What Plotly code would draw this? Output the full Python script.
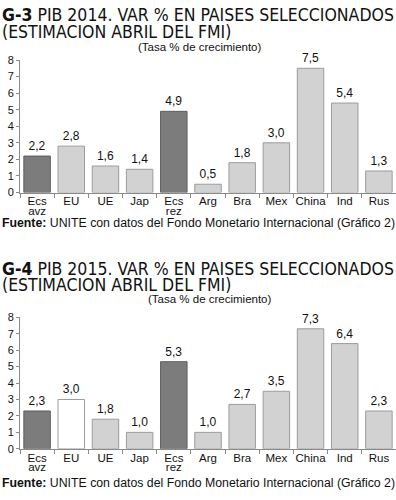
import plotly.graph_objects as go

categories = ["Ecs avz", "EU", "UE", "Jap", "Ecs rez", "Arg", "Bra", "Mex", "China", "Ind", "Rus"]
label_line1 = ["Ecs", "EU", "UE", "Jap", "Ecs", "Arg", "Bra", "Mex", "China", "Ind", "Rus"]
label_line2 = ["avz", "", "", "", "rez", "", "", "", "", "", ""]
values_2014 = [2.2, 2.8, 1.6, 1.4, 4.9, 0.5, 1.8, 3.0, 7.5, 5.4, 1.3]
values_2015 = [2.3, 3.0, 1.8, 1.0, 5.3, 1.0, 2.7, 3.5, 7.3, 6.4, 2.3]
yticks = [0, 1, 2, 3, 4, 5, 6, 7, 8]

DARK = "#7c7c7c"
DARK_LINE = "#5e5e5e"
LIGHT = "#d2d2d2"
LIGHT_LINE = "#9c9c9c"
WHITE = "#ffffff"

fill_2014 = [DARK, LIGHT, LIGHT, LIGHT, DARK, LIGHT, LIGHT, LIGHT, LIGHT, LIGHT, LIGHT]
line_2014 = [DARK_LINE if c == DARK else LIGHT_LINE for c in fill_2014]
fill_2015 = [DARK, WHITE, LIGHT, LIGHT, DARK, LIGHT, LIGHT, LIGHT, LIGHT, LIGHT, LIGHT]
line_2015 = [DARK_LINE if c == DARK else LIGHT_LINE for c in fill_2015]

FONT = "Liberation Sans, Arial, sans-serif"
TFONT = "DejaVu Sans Condensed, Liberation Sans, Arial, sans-serif"

fig = go.Figure()
fig.add_trace(go.Bar(x=categories, y=values_2014, xaxis="x", yaxis="y",
                     marker=dict(color=fill_2014, line=dict(color=line_2014, width=1)),
                     texttemplate="%{y:.1f}", textposition="outside", cliponaxis=False,
                     textfont=dict(size=12, color="#111", family=FONT), showlegend=False))
fig.add_trace(go.Bar(x=categories, y=values_2015, xaxis="x2", yaxis="y2",
                     marker=dict(color=fill_2015, line=dict(color=line_2015, width=1)),
                     texttemplate="%{y:.1f}", textposition="outside", cliponaxis=False,
                     textfont=dict(size=12, color="#111", family=FONT), showlegend=False))
# invisible helper traces so the second-line label axes are drawn
idx = list(range(len(categories)))
for xa, ya in (("x3", "y"), ("x4", "y2")):
    fig.add_trace(go.Scatter(x=idx, y=[None] * len(idx), xaxis=xa, yaxis=ya, mode="markers",
                             showlegend=False, hoverinfo="skip"))

xdomain = [20/396, 1]
xcommon = dict(type="category", showgrid=False, showline=True, linecolor="#8a8a8a",
               ticks="outside", tickson="boundaries", ticklen=4, tickcolor="#8a8a8a",
               tickangle=0, automargin=False, ticklabelstandoff=-2,
               tickvals=categories, ticktext=label_line1,
               tickfont=dict(size=11.5, color="#111", family=FONT), domain=xdomain)
xsecond = dict(type="linear", range=[-0.5, len(categories) - 0.5],
               tickvals=idx, ticktext=label_line2,
               showgrid=False, showline=False, zeroline=False, ticks="",
               tickangle=0, automargin=False, ticklabelstandoff=10,
               tickfont=dict(size=11.5, color="#111", family=FONT), domain=xdomain)
ycommon = dict(range=[0, 8], tickvals=yticks, showgrid=False, showline=True,
               linecolor="#8a8a8a", ticks="outside", ticklen=3, tickcolor="#8a8a8a",
               automargin=False,
               tickfont=dict(size=11, color="#111", family=FONT), zeroline=False)

fig.update_layout(
    width=396, height=500, margin=dict(l=0, r=0, t=0, b=0),
    paper_bgcolor="white", plot_bgcolor="white", separators=",.",
    bargap=0.225,
    xaxis=dict(anchor="y", **xcommon),
    yaxis=dict(anchor="x", domain=[1 - 192.5/500, 1 - 60/500], **ycommon),
    xaxis2=dict(anchor="y2", **xcommon),
    yaxis2=dict(anchor="x2", domain=[1 - 448.8/500, 1 - 317.3/500], **ycommon),
    xaxis3=dict(anchor="y", overlaying="x", side="bottom", **xsecond),
    xaxis4=dict(anchor="y2", overlaying="x2", side="bottom", **xsecond),
)

def ann(text, x, y, size, xanchor="left", family=FONT):
    fig.add_annotation(text=text, x=x/396, y=1 - y/500, xref="paper", yref="paper",
                       xanchor=xanchor, yanchor="middle", showarrow=False,
                       font=dict(size=size, color="#111", family=family))

ann("<b>G-3</b> PIB 2014. VAR % EN PAISES SELECCIONADOS", 0, 15, 17.5, family=TFONT)
ann("(ESTIMACION ABRIL DEL FMI)", 0, 32.5, 17.5, family=TFONT)
ann("(Tasa % de crecimiento)", 200, 47.5, 11.5, "center")
ann("<b>Fuente:</b> UNITE con datos del Fondo Monetario Internacional (Gráfico 2)", 0, 222.5, 12.3)

ann("<b>G-4</b> PIB 2015. VAR % EN PAISES SELECCIONADOS", 0, 269, 17.5, family=TFONT)
ann("(ESTIMACION ABRIL DEL FMI)", 0, 284.5, 17.5, family=TFONT)
ann("(Tasa % de crecimiento)", 210, 298.5, 11.5, "center")
ann("<b>Fuente:</b> UNITE con datos del Fondo Monetario Internacional (Gráfico 2)", 0, 482.5, 12.3)

fig.write_html("out.html", config={"displayModeBar": False},
               post_script="document.body.style.margin='0px';window.dispatchEvent(new Event('resize'));")
